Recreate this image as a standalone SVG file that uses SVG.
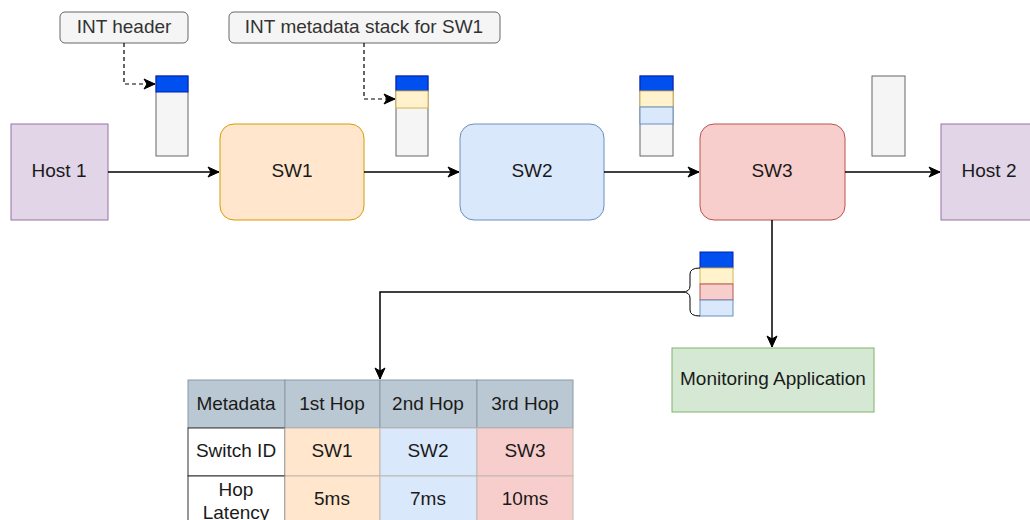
<svg xmlns="http://www.w3.org/2000/svg" width="1030" height="520" viewBox="0 0 1030 520">
<defs>
<marker id="arr" markerWidth="14" markerHeight="14" refX="12" refY="7" orient="auto" markerUnits="userSpaceOnUse">
<path d="M1,2 L12,7 L1,12 L4,7 Z" fill="#000" stroke="#000" stroke-width="1"/>
</marker>
</defs>
<style>
text{font-family:"Liberation Sans",Arial,sans-serif;font-size:19px;fill:#1a1a1a;text-anchor:middle;dominant-baseline:central}
.call{fill:#f5f5f5;stroke:#666;stroke-width:1}
.call-t{fill:#333}
.pkt{fill:#f5f5f5;stroke:#666;stroke-width:1}
.hdr{fill:#0050ef;stroke:#001dbc;stroke-width:1}
.m1{fill:#fff2cc;stroke:#d6b656;stroke-width:1}
.m2{fill:#dae8fc;stroke:#6c8ebf;stroke-width:1}
.m3{fill:#f8cecc;stroke:#b85450;stroke-width:1}
.conn{fill:none;stroke:#000;stroke-width:1.5}
.dash{fill:none;stroke:#000;stroke-width:1.2;stroke-dasharray:4 3}
.th{fill:#bac8d3;stroke:#8a99a6;stroke-width:1}
.td{stroke:#c0b8b0;stroke-width:1}
</style>
<g id="host1"><rect x="11" y="124" width="97" height="96" fill="#e1d5e7" stroke="#9673a6"/><text x="59" y="170">Host 1</text></g>
<g id="sw1"><rect x="220" y="124" width="144" height="96" rx="14" fill="#ffe6cc" stroke="#d79b00"/><text x="292" y="170">SW1</text></g>
<g id="sw2"><rect x="460" y="124" width="144" height="96" rx="14" fill="#dae8fc" stroke="#6c8ebf"/><text x="532" y="170">SW2</text></g>
<g id="sw3"><rect x="700" y="124" width="145" height="96" rx="14" fill="#f8cecc" stroke="#b85450"/><text x="772" y="170">SW3</text></g>
<g id="host2"><rect x="941" y="124" width="97" height="96" fill="#e1d5e7" stroke="#9673a6"/><text x="989" y="170">Host 2</text></g>
<g id="callout-int-header"><rect class="call" x="60" y="12" width="128" height="31" rx="5"/><text class="call-t" x="124" y="26">INT header</text></g>
<g id="callout-int-metadata"><rect class="call" x="229" y="12" width="271" height="31" rx="5"/><text class="call-t" x="364" y="26">INT metadata stack for SW1</text></g>
<g id="packet1"><rect class="pkt" x="156" y="76" width="32" height="80"/><rect class="hdr" x="156" y="76" width="32" height="16"/></g>
<g id="packet2"><rect class="pkt" x="396" y="76" width="32" height="80"/><rect class="hdr" x="396" y="76" width="32" height="15"/><rect class="m1" x="396" y="91" width="32" height="17"/></g>
<g id="packet3"><rect class="pkt" x="640" y="76" width="33" height="80"/><rect class="hdr" x="640" y="76" width="33" height="15"/><rect class="m1" x="640" y="91" width="33" height="16"/><rect class="m2" x="640" y="107" width="33" height="17"/></g>
<g id="packet4"><rect class="pkt" x="872" y="76" width="33" height="80"/></g>
<g id="stack"><rect class="hdr" x="700" y="252" width="33" height="16"/><rect class="m1" x="700" y="268" width="33" height="16"/><rect class="m3" x="700" y="284" width="33" height="16"/><rect class="m2" x="700" y="300" width="33" height="16"/></g>
<g id="monitoring"><rect x="672" y="348" width="202" height="64" fill="#d5e8d4" stroke="#82b366"/><text x="773" y="378">Monitoring Application</text></g>
<g id="table">
<rect class="th" x="188" y="380" width="97" height="48"/><text x="236" y="403">Metadata</text>
<rect class="th" x="285" y="380" width="95" height="48"/><text x="332" y="403">1st Hop</text>
<rect class="th" x="380" y="380" width="97" height="48"/><text x="428" y="403">2nd Hop</text>
<rect class="th" x="477" y="380" width="96" height="48"/><text x="525" y="403">3rd Hop</text>
<rect x="188" y="428" width="97" height="48" fill="#fff" stroke="#333"/><text x="236" y="450">Switch ID</text>
<rect class="td" x="285" y="428" width="95" height="48" fill="#ffe6cc"/><text x="332" y="450">SW1</text>
<rect class="td" x="380" y="428" width="97" height="48" fill="#dae8fc"/><text x="428" y="450">SW2</text>
<rect class="td" x="477" y="428" width="96" height="48" fill="#f8cecc"/><text x="525" y="450">SW3</text>
<rect x="188" y="476" width="97" height="48" fill="#fff" stroke="#333"/><text x="236" y="489">Hop</text><text x="236" y="512">Latency</text>
<rect class="td" x="285" y="476" width="95" height="48" fill="#ffe6cc"/><text x="332" y="498">5ms</text>
<rect class="td" x="380" y="476" width="97" height="48" fill="#dae8fc"/><text x="428" y="498">7ms</text>
<rect class="td" x="477" y="476" width="96" height="48" fill="#f8cecc"/><text x="525" y="498">10ms</text>
</g>
<g id="connectors">
<path class="conn" d="M108,172 L219,172" marker-end="url(#arr)"/>
<path class="conn" d="M364,172 L459,172" marker-end="url(#arr)"/>
<path class="conn" d="M604,172 L699,172" marker-end="url(#arr)"/>
<path class="conn" d="M845,172 L940,172" marker-end="url(#arr)"/>
<path class="conn" d="M772,220 L772,347" marker-end="url(#arr)"/>
<path class="dash" d="M124,43 L124,84 L155,84" marker-end="url(#arr)"/>
<path class="dash" d="M364,43 L364,99 L395,99" marker-end="url(#arr)"/>
<path fill="none" stroke="#000" stroke-width="1" d="M700,268 Q690,268 690,274 L690,286 Q690,292 682,292 Q690,292 690,298 L690,310 Q690,316 700,316"/>
<path class="conn" d="M682,292 L380,292 L380,379" marker-end="url(#arr)"/>
</g>
</svg>
